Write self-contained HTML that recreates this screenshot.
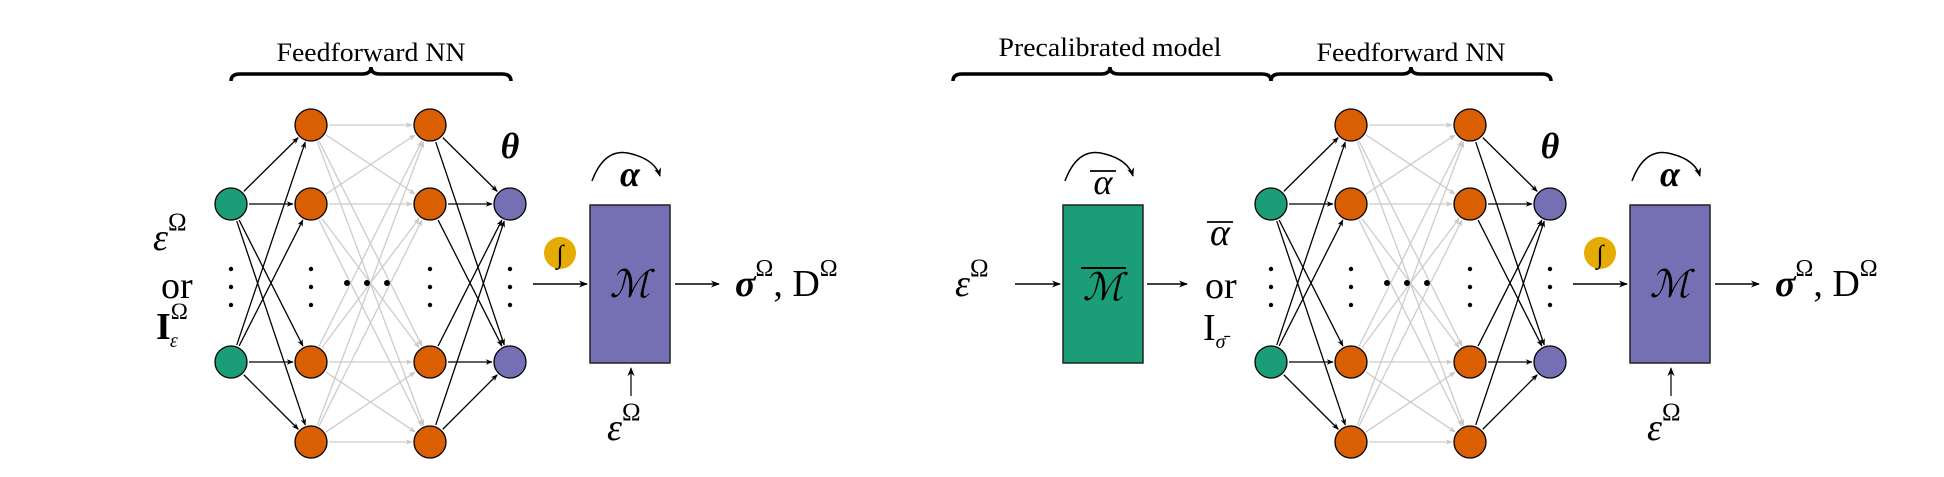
<!DOCTYPE html>
<html><head><meta charset="utf-8"><style>
html,body{margin:0;padding:0;background:#fff;}
svg{display:block;}
svg text{font-family:"Liberation Serif","DejaVu Serif",serif !important;fill:#000;}
.it{font-style:italic;}
.bd{font-weight:bold;}
</style></head><body>
<svg id="fig" width="1944" height="477" viewBox="0 0 1944 477" xmlns="http://www.w3.org/2000/svg" font-family="Liberation Serif, serif">
<defs>
<marker id="ab" viewBox="0 0 10 10" refX="9" refY="5" markerWidth="7" markerHeight="7" orient="auto" markerUnits="userSpaceOnUse"><path d="M0,1 L10,5 L0,9 L3,5 z" fill="#000"/></marker>
<marker id="ag" viewBox="0 0 10 10" refX="9" refY="5" markerWidth="7" markerHeight="7" orient="auto" markerUnits="userSpaceOnUse"><path d="M0,1 L10,5 L0,9 L3,5 z" fill="#c8c8c8"/></marker>
</defs>
<g id="edges"></g>
<g id="nodes"></g>
</svg>
<script>
const NS='http://www.w3.org/2000/svg';
const layerX=[231,311,430,510];
const layerYs=[[204,362],[125,204,362,442],[125,204,362,442],[204,362]];
const layerFill=['#1b9e77','#d95f02','#d95f02','#7570b3'];
const figOffsets=[0,1040];
const R=16;
function mk(parent,tag,attrs){const e=document.createElementNS(NS,tag);for(const k in attrs)e.setAttribute(k,attrs[k]);parent.appendChild(e);return e;}
const E=document.getElementById('edges'),N=document.getElementById('nodes');
figOffsets.forEach((off,fi)=>{
  for(let l=0;l<3;l++){
    layerYs[l].forEach(y1=>{layerYs[l+1].forEach(y2=>{
      const x1=layerX[l]+off,x2=layerX[l+1]+off;
      const dx=x2-x1,dy=y2-y1,d=Math.hypot(dx,dy);
      const gray=(l===1);
      const ln=mk(E,'line',{x1:x1+dx/d*(R+2),y1:y1+dy/d*(R+2),x2:x2-dx/d*(R+2),y2:y2-dy/d*(R+2),stroke:gray?'#cccccc':'#000','stroke-width':1.3,'marker-end':gray?'url(#ag)':'url(#ab)'});
      
      
    });});
  }
  layerYs.forEach((ys,l)=>{
    ys.forEach(y=>{
      const c=mk(N,'ellipse',{cx:layerX[l]+off,cy:y,rx:R,ry:R,fill:layerFill[l],stroke:'#000','stroke-width':1.3});
      
      
    });
    [269,287,305].forEach(y=>{const d=mk(N,'circle',{cx:layerX[l]+off,cy:y,r:2.2,fill:'#000'});});
  });
  [347,367,387].forEach(x=>{const d=mk(N,'circle',{cx:x+off,cy:283,r:3,fill:'#000'});});
});
</script>
<svg style="position:absolute;left:0;top:0" width="1944" height="477" viewBox="0 0 1944 477" xmlns="http://www.w3.org/2000/svg" font-family="Liberation Serif, serif">
<defs>
<marker id="ab2" viewBox="0 0 10 10" refX="9" refY="5" markerWidth="9" markerHeight="9" orient="auto" markerUnits="userSpaceOnUse"><path d="M0,1 L10,5 L0,9 L3,5 z" fill="#000"/></marker>
</defs>
<g>
<text x="371" y="61" font-size="26" text-anchor="middle" textLength="189" lengthAdjust="spacingAndGlyphs">Feedforward NN</text>
<path d="M231,81 Q231,74 240,74 L362,74 Q371,74 371,67 Q371,74 380,74 L502,74 Q511,74 511,81" fill="none" stroke="#000" stroke-width="3.5"/>
<text x="153" y="250" font-size="38" class="it">ε<tspan font-size="25" dy="-20" font-style="normal">Ω</tspan></text>
<text x="161" y="298" font-size="38">or</text>
<text x="156" y="339" font-size="38" class="bd">I<tspan font-size="23" dy="-20" font-weight="normal">Ω</tspan><tspan font-size="20" dx="-18" dy="28" font-weight="normal" class="it">ε</tspan></text>
<text x="510" y="158" font-size="36" class="it bd" text-anchor="middle">θ</text>
<circle cx="560" cy="253" r="16" fill="#e6ab02"/>
<text x="560" y="263" font-size="26" text-anchor="middle" class="it">∫</text>
<line x1="533" y1="284" x2="587" y2="284" stroke="#000" stroke-width="1.5" marker-end="url(#ab2)"/>
<rect x="590" y="205" width="80" height="158" fill="#7570b3" stroke="#222" stroke-width="1.5"/>
<text x="630" y="297" font-size="38" class="it" text-anchor="middle">ℳ</text>
<path d="M592,181 Q605,146 632,154 Q655,160 660,176" fill="none" stroke="#000" stroke-width="1.5" marker-end="url(#ab2)"/>
<text x="630" y="186" font-size="36" class="it bd" text-anchor="middle">α</text>
<line x1="675" y1="284" x2="719" y2="284" stroke="#000" stroke-width="1.5" marker-end="url(#ab2)"/>
<text x="735" y="296" font-size="38"><tspan class="it bd">σ</tspan><tspan font-size="24" dy="-20">Ω</tspan><tspan dy="20">, D</tspan><tspan font-size="24" dy="-20">Ω</tspan></text>
<line x1="631" y1="396" x2="631" y2="368" stroke="#000" stroke-width="1.2" marker-end="url(#ab2)"/>
<text x="607" y="440" font-size="38" class="it">ε<tspan font-size="25" dy="-20" font-style="normal">Ω</tspan></text>
</g>
<g>
<text x="1110" y="56" font-size="26" text-anchor="middle" textLength="223" lengthAdjust="spacingAndGlyphs">Precalibrated model</text>
<path d="M953,81 Q953,74 962,74 L1101,74 Q1110,74 1110,67 Q1110,74 1119,74 L1262,74 Q1271,74 1271,81" fill="none" stroke="#000" stroke-width="3.5"/>
<text x="1411" y="61" font-size="26" text-anchor="middle" textLength="189" lengthAdjust="spacingAndGlyphs">Feedforward NN</text>
<path d="M1271,81 Q1271,74 1280,74 L1402,74 Q1411,74 1411,67 Q1411,74 1420,74 L1542,74 Q1551,74 1551,81" fill="none" stroke="#000" stroke-width="3.5"/>
<text x="955" y="296" font-size="38" class="it">ε<tspan font-size="25" dy="-20" font-style="normal">Ω</tspan></text>
<line x1="1015" y1="284" x2="1060" y2="284" stroke="#000" stroke-width="1.5" marker-end="url(#ab2)"/>
<rect x="1063" y="205" width="80" height="158" fill="#1b9e77" stroke="#222" stroke-width="1.5"/>
<line x1="1081" y1="268" x2="1126" y2="268" stroke="#000" stroke-width="2"/>
<text x="1103" y="300" font-size="38" class="it" text-anchor="middle">ℳ</text>
<path d="M1065,181 Q1078,146 1105,154 Q1128,160 1133,176" fill="none" stroke="#000" stroke-width="1.5" marker-end="url(#ab2)"/>
<line x1="1090" y1="171" x2="1116" y2="171" stroke="#000" stroke-width="1.8"/>
<text x="1103" y="194" font-size="36" class="it" text-anchor="middle">α</text>
<line x1="1147" y1="284" x2="1187" y2="284" stroke="#000" stroke-width="1.5" marker-end="url(#ab2)"/>
<line x1="1207" y1="222" x2="1233" y2="222" stroke="#000" stroke-width="1.8"/>
<text x="1220" y="245" font-size="38" class="it" text-anchor="middle">α</text>
<text x="1205" y="298" font-size="38">or</text>
<text x="1203" y="340" font-size="38">I<tspan font-size="20" dy="8" class="it">σ̄</tspan></text>
<text x="1550" y="158" font-size="36" class="it bd" text-anchor="middle">θ</text>
<circle cx="1600" cy="253" r="16" fill="#e6ab02"/>
<text x="1600" y="263" font-size="26" text-anchor="middle" class="it">∫</text>
<line x1="1573" y1="284" x2="1627" y2="284" stroke="#000" stroke-width="1.5" marker-end="url(#ab2)"/>
<rect x="1630" y="205" width="80" height="158" fill="#7570b3" stroke="#222" stroke-width="1.5"/>
<text x="1670" y="297" font-size="38" class="it" text-anchor="middle">ℳ</text>
<path d="M1632,181 Q1645,146 1672,154 Q1695,160 1700,176" fill="none" stroke="#000" stroke-width="1.5" marker-end="url(#ab2)"/>
<text x="1670" y="186" font-size="36" class="it bd" text-anchor="middle">α</text>
<line x1="1715" y1="284" x2="1759" y2="284" stroke="#000" stroke-width="1.5" marker-end="url(#ab2)"/>
<text x="1775" y="296" font-size="38"><tspan class="it bd">σ</tspan><tspan font-size="24" dy="-20">Ω</tspan><tspan dy="20">, D</tspan><tspan font-size="24" dy="-20">Ω</tspan></text>
<line x1="1671" y1="396" x2="1671" y2="368" stroke="#000" stroke-width="1.2" marker-end="url(#ab2)"/>
<text x="1647" y="440" font-size="38" class="it">ε<tspan font-size="25" dy="-20" font-style="normal">Ω</tspan></text>
</g>
</svg>
</body></html>
